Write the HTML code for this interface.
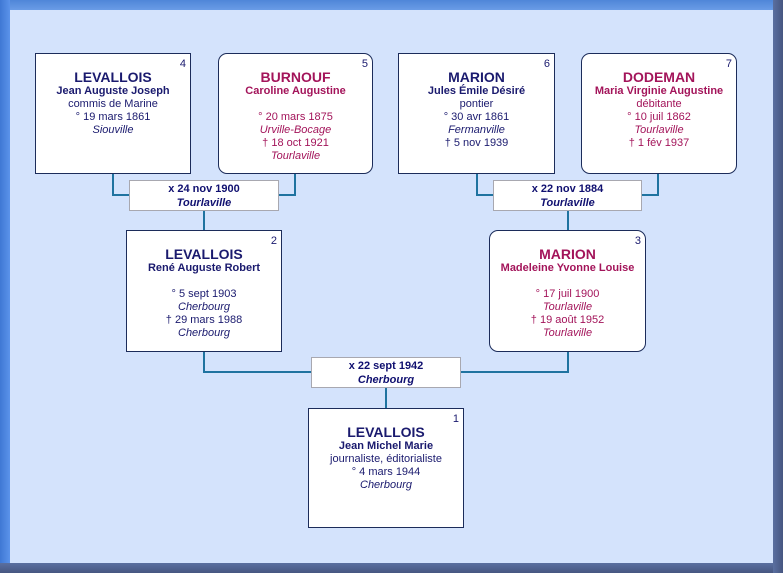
<!DOCTYPE html>
<html><head><meta charset="utf-8"><style>
*{margin:0;padding:0;box-sizing:border-box}
body{width:783px;height:573px;position:relative;overflow:hidden;background:#d4e3fc;font-family:"Liberation Sans",Arial,sans-serif}
.bt{position:absolute;left:0;top:0;width:783px;height:10px;background:linear-gradient(#4f86d8,#6a9ce6)}
.bl{position:absolute;left:0;top:0;width:10px;height:573px;background:linear-gradient(90deg,#3f78d4,#5b93ea)}
.bb{position:absolute;left:0;top:563px;width:783px;height:10px;background:linear-gradient(#5a6fa0,#465680)}
.br{position:absolute;left:773px;top:0;width:10px;height:573px;background:linear-gradient(90deg,#5a6fa0,#465680)}
.box{position:absolute;background:#fff;border:1px solid #1c2c5a;text-align:center;font-size:11px;line-height:13px;color:#1a1a6e;padding-top:16px}
.f{border-radius:9px;color:#a3145a}
.num{position:absolute;right:4px;top:4px;font-size:11px;color:#1a1a6e}
.f .num{color:#1a1a6e}
.sn{font-size:14px;font-weight:bold;line-height:15px}
.gn{font-weight:bold}
i{font-style:italic}
.m{position:absolute;background:#fff;border:1px solid #a8a8b0;text-align:center;font-size:11px;line-height:14px;color:#101070;font-weight:bold;padding-top:1px}
.ln{position:absolute;background:#1f73a0}
</style></head><body>
<div class="bt"></div><div class="bl"></div><div class="bb"></div><div class="br"></div>

<!-- connectors -->
<div class="ln" style="left:112px;top:173px;width:2px;height:23px"></div>
<div class="ln" style="left:112px;top:194px;width:18px;height:2px"></div>
<div class="ln" style="left:294px;top:173px;width:2px;height:23px"></div>
<div class="ln" style="left:278px;top:194px;width:18px;height:2px"></div>
<div class="ln" style="left:203px;top:210px;width:2px;height:20px"></div>

<div class="ln" style="left:476px;top:173px;width:2px;height:23px"></div>
<div class="ln" style="left:476px;top:194px;width:18px;height:2px"></div>
<div class="ln" style="left:657px;top:173px;width:2px;height:23px"></div>
<div class="ln" style="left:641px;top:194px;width:18px;height:2px"></div>
<div class="ln" style="left:567px;top:210px;width:2px;height:20px"></div>

<div class="ln" style="left:203px;top:351px;width:2px;height:22px"></div>
<div class="ln" style="left:203px;top:371px;width:109px;height:2px"></div>
<div class="ln" style="left:567px;top:351px;width:2px;height:22px"></div>
<div class="ln" style="left:460px;top:371px;width:109px;height:2px"></div>
<div class="ln" style="left:385px;top:388px;width:2px;height:20px"></div>

<!-- gen 3 -->
<div class="box" style="left:35px;top:53px;width:156px;height:121px"><span class="num">4</span>
<div class="sn">LEVALLOIS</div><div class="gn">Jean Auguste Joseph</div>commis de Marine<br>° 19 mars 1861<br><i>Siouville</i></div>
<div class="box f" style="left:218px;top:53px;width:155px;height:121px"><span class="num">5</span>
<div class="sn">BURNOUF</div><div class="gn">Caroline Augustine</div><br>° 20 mars 1875<br><i>Urville-Bocage</i><br>† 18 oct 1921<br><i>Tourlaville</i></div>
<div class="box" style="left:398px;top:53px;width:157px;height:121px"><span class="num">6</span>
<div class="sn">MARION</div><div class="gn">Jules Émile Désiré</div>pontier<br>° 30 avr 1861<br><i>Fermanville</i><br>† 5 nov 1939</div>
<div class="box f" style="left:581px;top:53px;width:156px;height:121px"><span class="num">7</span>
<div class="sn">DODEMAN</div><div class="gn">Maria Virginie Augustine</div>débitante<br>° 10 juil 1862<br><i>Tourlaville</i><br>† 1 fév 1937</div>

<div class="m" style="left:129px;top:180px;width:150px;height:31px">x 24 nov 1900<br><i>Tourlaville</i></div>
<div class="m" style="left:493px;top:180px;width:149px;height:31px">x 22 nov 1884<br><i>Tourlaville</i></div>

<!-- gen 2 -->
<div class="box" style="left:126px;top:230px;width:156px;height:122px"><span class="num">2</span>
<div class="sn">LEVALLOIS</div><div class="gn">René Auguste Robert</div><br>° 5 sept 1903<br><i>Cherbourg</i><br>† 29 mars 1988<br><i>Cherbourg</i></div>
<div class="box f" style="left:489px;top:230px;width:157px;height:122px"><span class="num">3</span>
<div class="sn">MARION</div><div class="gn">Madeleine Yvonne Louise</div><br>° 17 juil 1900<br><i>Tourlaville</i><br>† 19 août 1952<br><i>Tourlaville</i></div>

<div class="m" style="left:311px;top:357px;width:150px;height:31px">x 22 sept 1942<br><i>Cherbourg</i></div>

<!-- gen 1 -->
<div class="box" style="left:308px;top:408px;width:156px;height:120px"><span class="num">1</span>
<div class="sn">LEVALLOIS</div><div class="gn">Jean Michel Marie</div>journaliste, éditorialiste<br>° 4 mars 1944<br><i>Cherbourg</i></div>
</body></html>
